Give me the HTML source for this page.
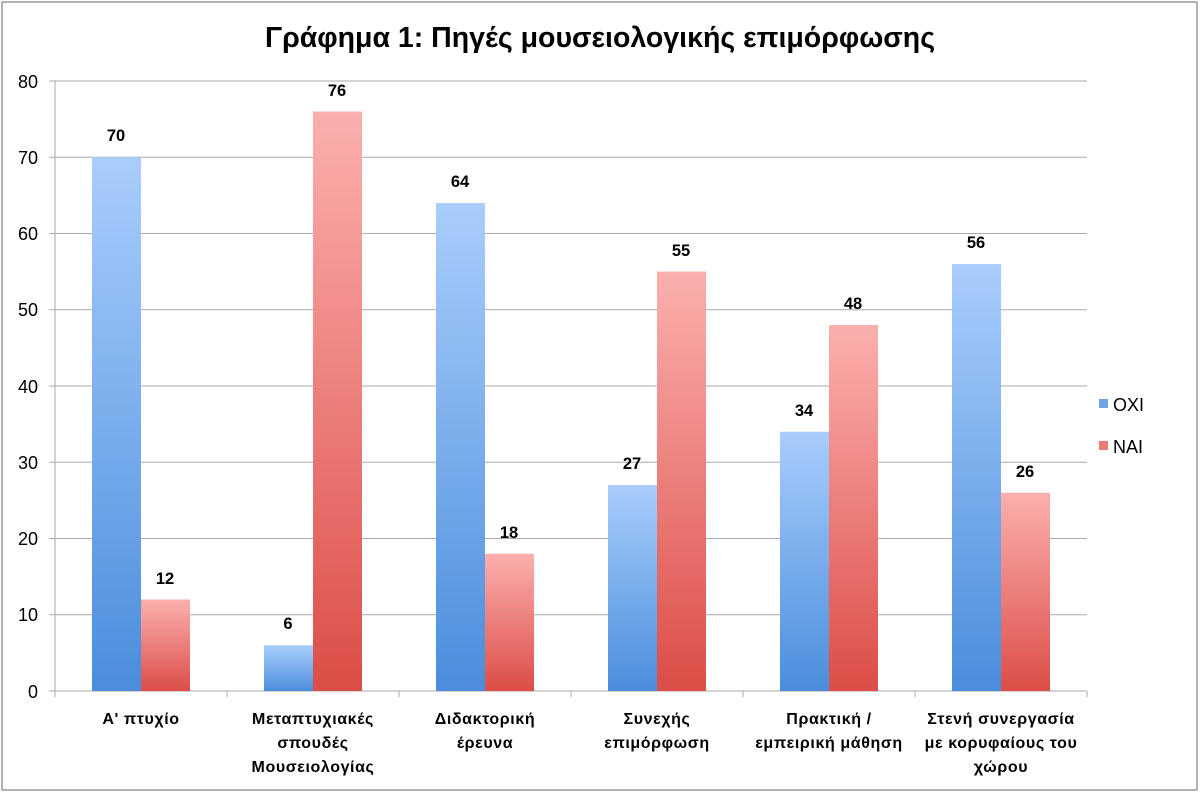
<!DOCTYPE html>
<html><head><meta charset="utf-8"><style>
html,body{margin:0;padding:0;background:#fff;}
svg text{font-family:"Liberation Sans","DejaVu Sans",sans-serif;}
</style></head><body>
<svg width="1200" height="792" xmlns="http://www.w3.org/2000/svg">
<defs>
<linearGradient id="b" x1="0" y1="0" x2="0" y2="1"><stop offset="0" stop-color="#a9cdfc"/><stop offset="1" stop-color="#4a8ddb"/></linearGradient>
<linearGradient id="r" x1="0" y1="0" x2="0" y2="1"><stop offset="0" stop-color="#fbb0ae"/><stop offset="1" stop-color="#dc4d47"/></linearGradient>
</defs>
<rect x="2" y="2" width="1195" height="788" fill="#fff" stroke="#999" stroke-width="1.5"/>
<text x="600" y="47" text-anchor="middle" font-size="28.5" font-weight="bold" fill="#000">Γράφημα 1: Πηγές μουσειολογικής επιμόρφωσης</text>
<g stroke="#aaa" stroke-width="1">
<line x1="49" y1="81" x2="1087" y2="81"/><line x1="49" y1="157.25" x2="1087" y2="157.25"/>
<line x1="49" y1="233.5" x2="1087" y2="233.5"/><line x1="49" y1="309.75" x2="1087" y2="309.75"/>
<line x1="49" y1="386" x2="1087" y2="386"/><line x1="49" y1="462.25" x2="1087" y2="462.25"/>
<line x1="49" y1="538.5" x2="1087" y2="538.5"/><line x1="49" y1="614.75" x2="1087" y2="614.75"/>
<line x1="49" y1="691" x2="1087" y2="691"/>
<line x1="55" y1="81" x2="55" y2="691"/>
<line x1="55" y1="691" x2="55" y2="697"/><line x1="227" y1="691" x2="227" y2="697"/><line x1="399" y1="691" x2="399" y2="697"/>
<line x1="571" y1="691" x2="571" y2="697"/><line x1="743" y1="691" x2="743" y2="697"/><line x1="915" y1="691" x2="915" y2="697"/><line x1="1087" y1="691" x2="1087" y2="697"/>
</g>
<g font-size="18" text-anchor="end" fill="#000">
<text x="38" y="88">80</text><text x="38" y="164">70</text><text x="38" y="240">60</text><text x="38" y="316">50</text>
<text x="38" y="393">40</text><text x="38" y="469">30</text><text x="38" y="545">20</text><text x="38" y="621">10</text><text x="38" y="698">0</text>
</g>
<g>
<rect x="92" y="157.25" width="49" height="533.75" fill="url(#b)"/><rect x="141" y="599.5" width="49" height="91.5" fill="url(#r)"/>
<rect x="264" y="645.25" width="49" height="45.75" fill="url(#b)"/><rect x="313" y="111.5" width="49" height="579.5" fill="url(#r)"/>
<rect x="436" y="203" width="49" height="488" fill="url(#b)"/><rect x="485" y="553.75" width="49" height="137.25" fill="url(#r)"/>
<rect x="608" y="485.1" width="49" height="205.9" fill="url(#b)"/><rect x="657" y="271.6" width="49" height="419.4" fill="url(#r)"/>
<rect x="780" y="431.75" width="49" height="259.25" fill="url(#b)"/><rect x="829" y="325" width="49" height="366" fill="url(#r)"/>
<rect x="952" y="264" width="49" height="427" fill="url(#b)"/><rect x="1001" y="492.75" width="49" height="198.25" fill="url(#r)"/>
</g>
<g font-size="16.5" font-weight="bold" text-anchor="middle" fill="#000">
<text x="116" y="141">70</text><text x="165" y="584">12</text>
<text x="288" y="629">6</text><text x="337" y="96">76</text>
<text x="460" y="187">64</text><text x="509" y="538">18</text>
<text x="632" y="469">27</text><text x="681" y="256">55</text>
<text x="804" y="416">34</text><text x="853" y="309">48</text>
<text x="976" y="248">56</text><text x="1025" y="477">26</text>
</g>
<g font-size="16" font-weight="bold" text-anchor="middle" fill="#000" letter-spacing="0.6">
<text x="141" y="724">Α' πτυχίο</text>
<text x="313" y="724">Μεταπτυχιακές</text><text x="313" y="748">σπουδές</text><text x="313" y="772">Μουσειολογίας</text>
<text x="485" y="724">Διδακτορική</text><text x="485" y="748">έρευνα</text>
<text x="657" y="724">Συνεχής</text><text x="657" y="748">επιμόρφωση</text>
<text x="829" y="724">Πρακτική /</text><text x="829" y="748">εμπειρική μάθηση</text>
<text x="1001" y="724">Στενή συνεργασία</text><text x="1001" y="748">με κορυφαίους του</text><text x="1001" y="772">χώρου</text>
</g>
<rect x="1099" y="399" width="9" height="9" fill="#6ea3e8"/>
<text x="1113" y="411" font-size="18" fill="#000">OXI</text>
<rect x="1099" y="441" width="9" height="9" fill="#ec7b77"/>
<text x="1113" y="453" font-size="18" fill="#000">NAI</text>
</svg>
</body></html>
